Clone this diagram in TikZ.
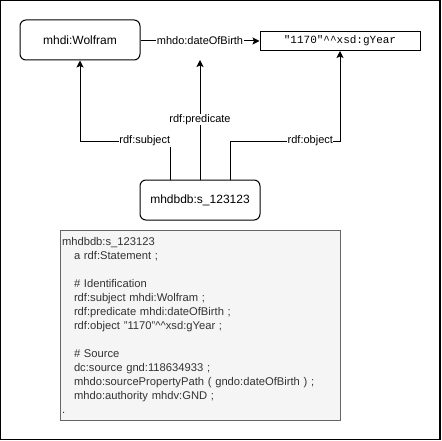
\documentclass[tikz,border=0pt]{standalone}
\usepackage{fontspec}
\setmainfont{Liberation Sans}
\newfontfamily\litfont{Liberation Mono}
\usetikzlibrary{arrows.meta}

\definecolor{notefill}{HTML}{F5F5F5}
\definecolor{notedraw}{HTML}{666666}
\definecolor{notetext}{HTML}{333333}

\tikzset{
  res/.style={draw, rounded corners=6pt, minimum width=120pt, minimum height=40pt,
    font=\fontsize{12}{14}\selectfont},
  lit/.style={draw, minimum width=160pt, minimum height=19pt, inner sep=0pt,
    font=\litfont\fontsize{11}{13}\selectfont},
  lbl/.style={fill=white, inner sep=0.5pt, font=\fontsize{11}{13}\selectfont},
  conn/.style={-{Stealth[length=7pt,width=7pt,inset=1.5pt]}},
}

\begin{document}
\begin{tikzpicture}[x=1pt, y=-1pt, line width=1pt]
  \useasboundingbox (0,0) rectangle (441,441);
  \draw[line width=1.2pt] (0.6,0.6) rectangle (440,439.4);

  % Top: the triple
  \node[res] (wolfram) at (80,40) {mhdi:Wolfram};
  \node[lit] (year) at (340,41) {"1170"\textasciicircum\textasciicircum xsd:gYear};
  \draw[conn] (wolfram.east |- 0,41) -- node[lbl] (pred) {mhdo:dateOfBirth} (year.west);

  % Middle: the statement and its three links
  \node[res] (stmt) at (200,200) {mhdbdb:s\_123123};
  \coordinate (predtip) at (200,60);
  \draw[conn] (stmt.north -| 170,0) -- (170,141) -- node[lbl, pos=0.28] {rdf:subject} (80,141)
    -- (wolfram.south -| 80,0);
  \draw[conn] (stmt.north) -- node[lbl] {rdf:predicate} (predtip);
  \draw[conn] (stmt.north -| 230,0) -- (230,141) -- node[lbl, pos=0.73] {rdf:object} (340,141)
    -- (year.south -| 340,0);

  % Bottom: turtle source
  \node[draw=notedraw, fill=notefill, text=notetext, minimum width=280pt, minimum height=190pt,
    text width=277pt, inner xsep=1.5pt, inner ysep=0pt, align=left, anchor=north west,
    font=\fontsize{11.2}{14}\selectfont] (src) at (60,230) {%
    mhdbdb:s\_123123\\
    \hspace*{12pt}a rdf:Statement ;\\
    \mbox{}\\
    \hspace*{12pt}\# Identification\\
    \hspace*{12pt}rdf:subject mhdi:Wolfram ;\\
    \hspace*{12pt}rdf:predicate mhdi:dateOfBirth ;\\
    \hspace*{12pt}rdf:object "1170"\textasciicircum\textasciicircum xsd:gYear ;\\
    \mbox{}\\
    \hspace*{12pt}\# Source\\
    \hspace*{12pt}dc:source gnd:118634933 ;\\
    \hspace*{12pt}mhdo:sourcePropertyPath ( gndo:dateOfBirth ) ;\\
    \hspace*{12pt}mhdo:authority mhdv:GND ;\\
    .};
\end{tikzpicture}
\end{document}
